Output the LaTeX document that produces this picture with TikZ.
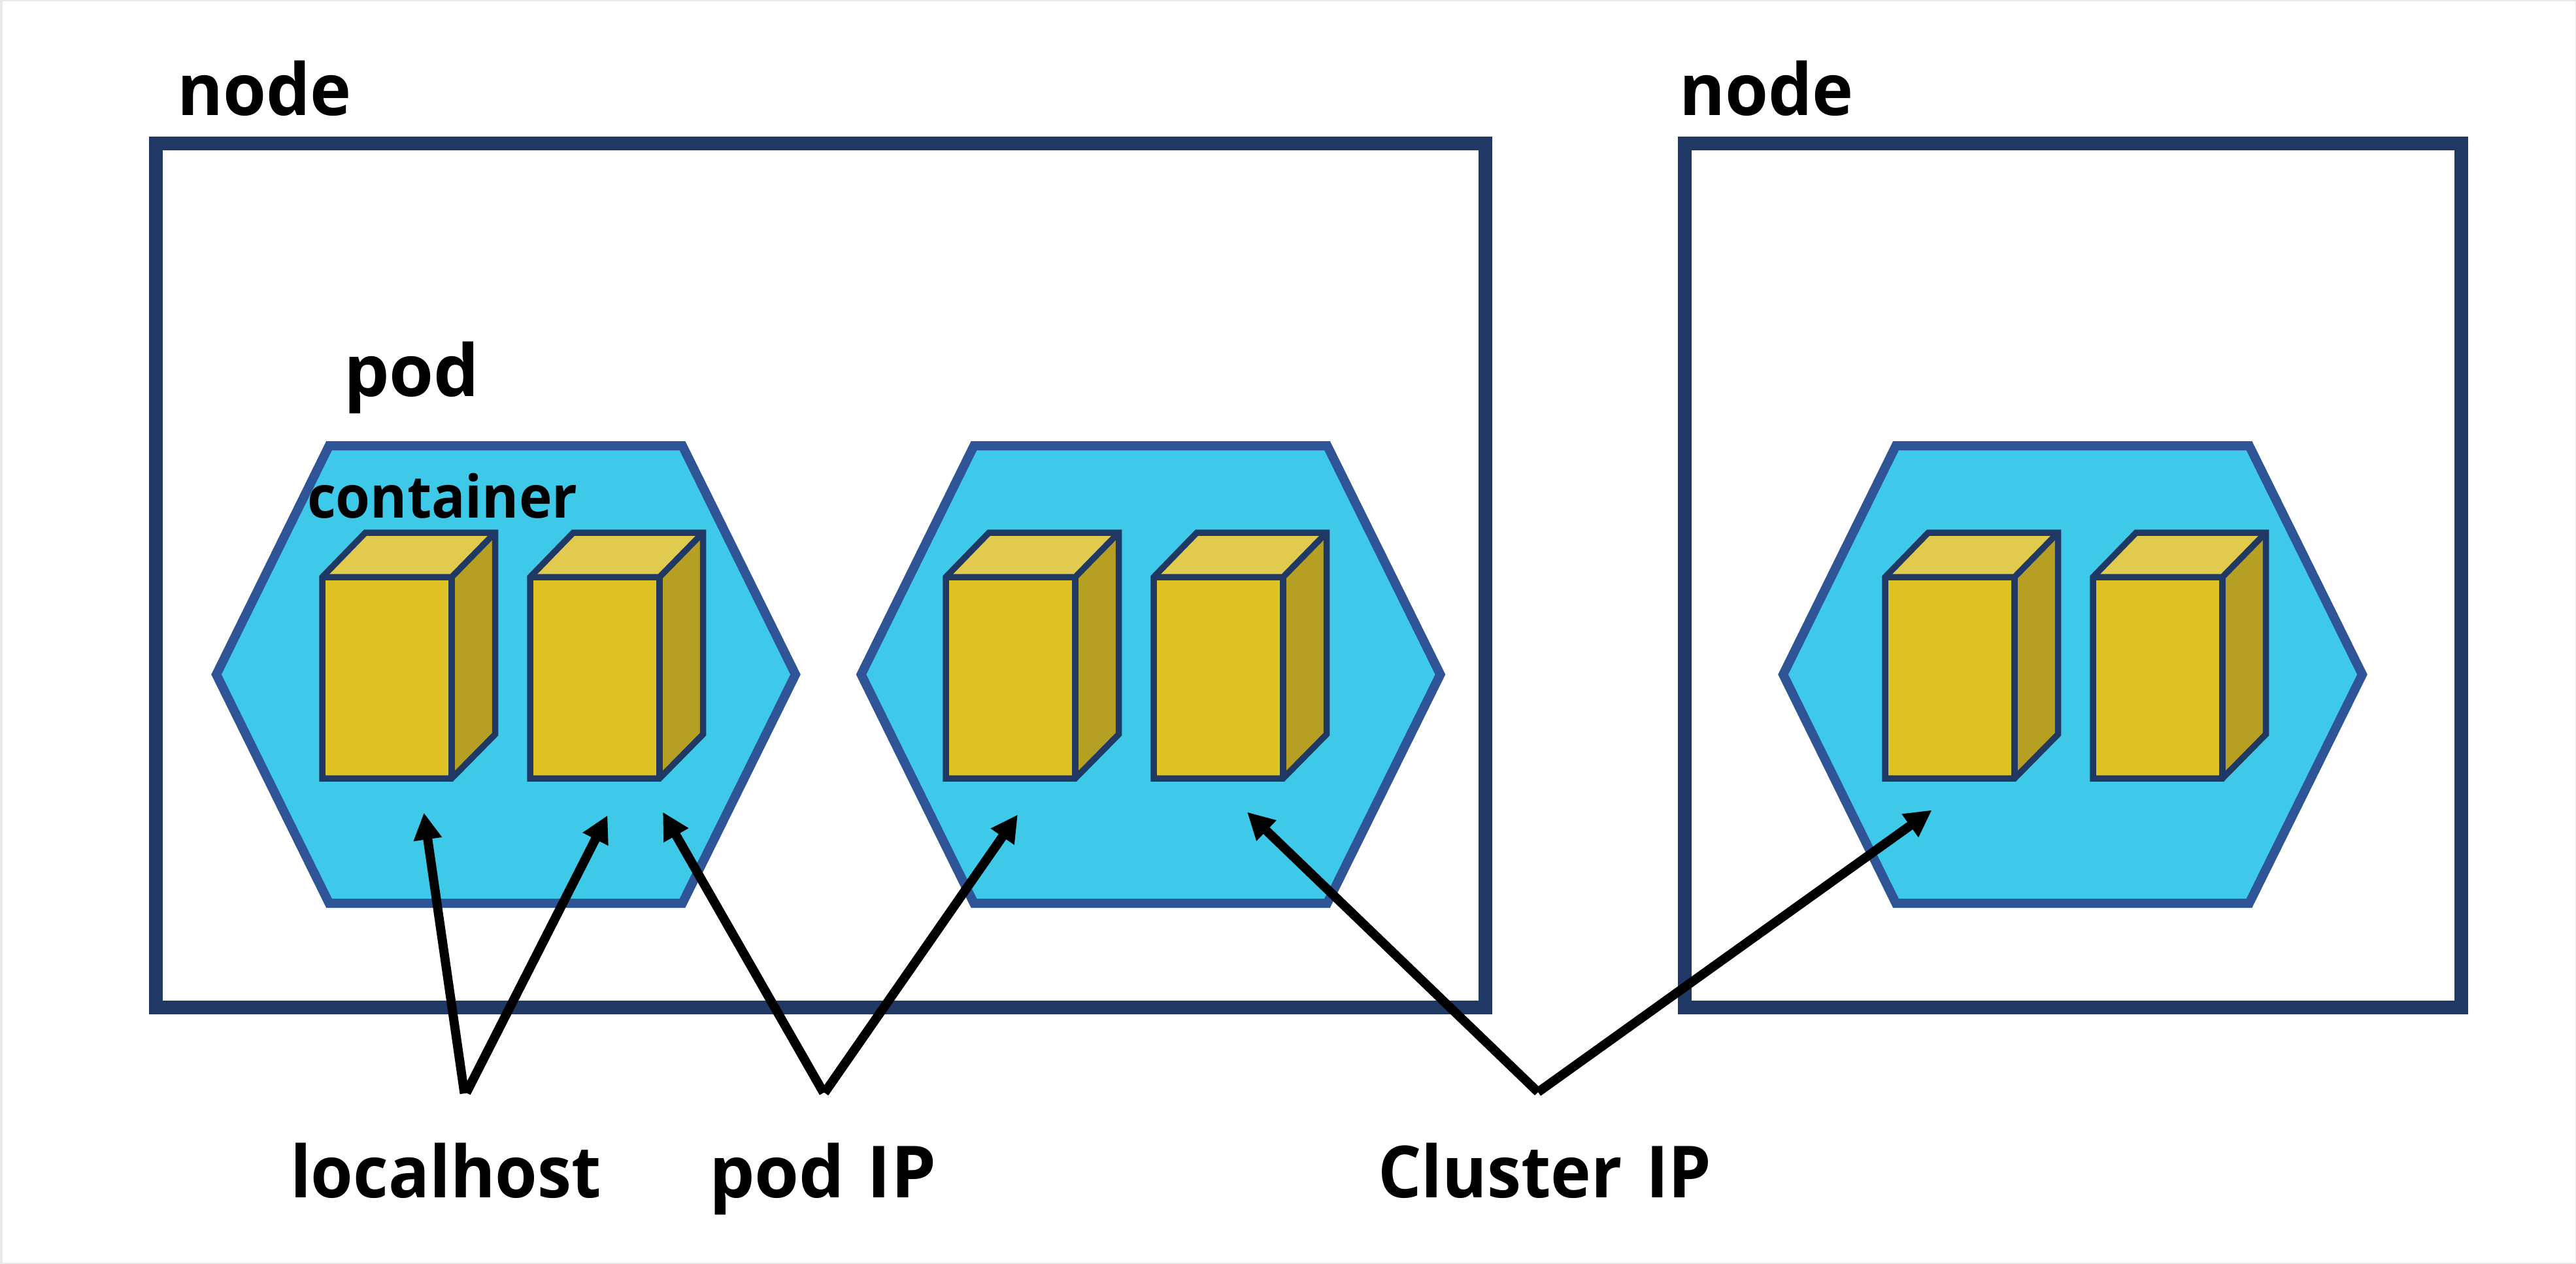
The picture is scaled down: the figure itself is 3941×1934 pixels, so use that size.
\documentclass[tikz,border=0pt]{standalone}
\usepackage{graphicx}
\usepackage{fontspec}
\setmainfont{Open Sans}
\usetikzlibrary{arrows.meta}
\definecolor{edgegrey}{HTML}{E9E9E9}
\definecolor{navy}{HTML}{203864}
\definecolor{podline}{HTML}{2F5597}
\definecolor{podfill}{HTML}{3FC9E8}
\definecolor{cubefront}{HTML}{DEC123}
\definecolor{cubetop}{HTML}{E0CB4F}
\definecolor{cubeside}{HTML}{B5A024}
\tikzset{
  nodebox/.style={draw=navy,line width=21pt,fill=white},
  podhex/.style={draw=podline,fill=podfill,line width=14pt},
  cubeline/.style={draw=navy,line width=9.5pt},
  biglabel/.style={anchor=base west,inner sep=0pt,outer sep=0pt,font=\fontsize{110}{130}\selectfont\bfseries,text=black},
  smalllabel/.style={biglabel,font=\fontsize{90}{108}\selectfont\bfseries},
  pointer/.style={draw=black,line width=14pt,-{Triangle[length=41pt,width=41pt]}}
}
\newcommand{\xfit}[2]{\scalebox{#1}[1]{#2}}
\newcommand{\podshape}[1]{%
  \draw[podhex,xshift=#1pt] (503.5,682) -- (1044,682) -- (1217,1032) -- (1044,1382) -- (503.5,1382) -- (331,1032) -- cycle;}
\newcommand{\boxshape}[1]{%
  \begin{scope}[xshift=#1pt]
    \fill[cubetop] (493,883) -- (559,815) -- (757.5,815) -- (691,883) -- cycle;
    \fill[cubeside] (691,883) -- (757.5,815) -- (757.5,1123.5) -- (691,1191) -- cycle;
    \fill[cubefront] (493,883) rectangle (691,1191);
    \draw[cubeline] (493,883) -- (691,883) -- (757.5,815);
    \draw[cubeline] (691,883) -- (691,1191);
    \draw[cubeline] (493,1191) -- (493,883) -- (559,815) -- (757.5,815) -- (757.5,1123.5) -- (691,1191) -- cycle;
  \end{scope}}
\begin{document}
\begin{tikzpicture}[x=1pt,y=-1pt]
\useasboundingbox (0,0) rectangle (3941,1934);
\fill[edgegrey] (0,0) rectangle (3941,1934);
\fill[white] (4,2) rectangle (3940,1932);
\draw[nodebox] (238.5,219.5) rectangle (2272,1541);
\draw[nodebox] (2577,219.5) rectangle (3765.5,1541);
\podshape{0}
\podshape{986.5}
\podshape{2397}
\boxshape{0}
\boxshape{318}
\boxshape{954}
\boxshape{1272}
\boxshape{2391}
\boxshape{2709}
\node[biglabel] (nodea) at (271,177) {\xfit{.97}{node}};
\node[biglabel] (nodeb) at (2569,177) {\xfit{.97}{node}};
\node[biglabel] (podlabel) at (526,606) {pod};
\node[smalllabel] (containerlabel) at (470,792) {\xfit{.95}{container}};
\node[biglabel] (localhost) at (444,1832) {\xfit{.95}{localhost}};
\node[biglabel] (podip) at (1085,1832) {pod\hspace{6pt} IP};
\node[biglabel] (clusterip) at (2108,1832) {\xfit{.95}{Cluster\hspace{10pt} IP}};
\coordinate (la) at (710.5,1673);
\coordinate (lb) at (713.5,1672);
\coordinate (pa) at (1260,1672);
\coordinate (pb) at (1261.5,1672);
\coordinate (ca) at (2353,1671);
\coordinate (cb) at (2353,1671);
\coordinate (ta) at (648.5,1243.5);
\coordinate (tb) at (929.5,1247.5);
\coordinate (tc) at (1014,1242.5);
\coordinate (td) at (1557,1246.5);
\coordinate (te) at (1908,1242.5);
\coordinate (tf) at (2955.5,1239.5);
\draw[pointer] (la) -- (ta);
\draw[pointer] (lb) -- (tb);
\draw[pointer] (pa) -- (tc);
\draw[pointer] (pb) -- (td);
\draw[pointer] (ca) -- (te);
\draw[pointer] (cb) -- (tf);
\end{tikzpicture}
\end{document}
